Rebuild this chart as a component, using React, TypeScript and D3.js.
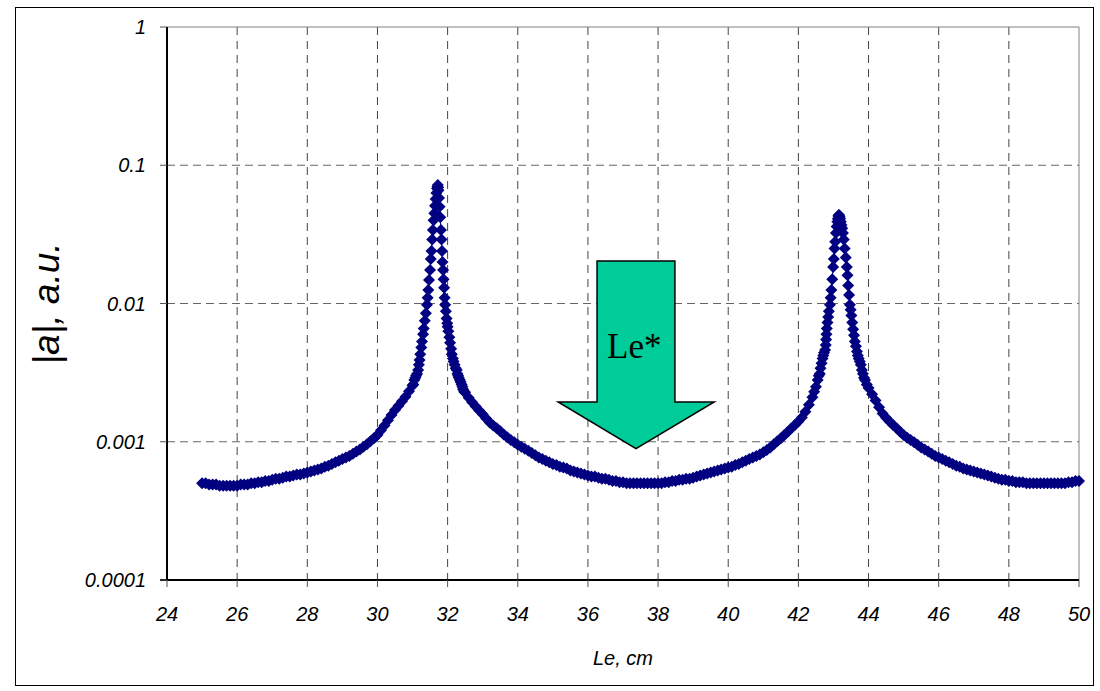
import React from 'react';
import * as d3 from 'd3';

// axis ticks
const X_TICKS = [24, 26, 28, 30, 32, 34, 36, 38, 40, 42, 44, 46, 48, 50];
const Y_TICKS = [0.0001, 0.001, 0.01, 0.1, 1];
const Y_TICK_LABELS = ['0.0001', '0.001', '0.01', '0.1', '1'];
const X_TITLE = 'Le, cm';
const Y_TITLE = '|a|, a.u.';
const ARROW_LABEL = 'Le*';

// series: [Le (cm), |a| (a.u.)]
const BASE_LEFT: [number, number][] = [
  [25.0, 0.00050], [25.1, 0.00050], [25.2, 0.00049], [25.3, 0.00049], [25.4, 0.00049],
  [25.5, 0.00048], [25.6, 0.00048], [25.7, 0.00048], [25.8, 0.00048], [25.9, 0.00048],
  [26.0, 0.00048], [26.1, 0.00049], [26.2, 0.00049], [26.3, 0.00049], [26.4, 0.00050],
  [26.5, 0.00050], [26.6, 0.00051], [26.7, 0.00051], [26.8, 0.00052], [26.9, 0.00052],
  [27.0, 0.00053], [27.1, 0.00054], [27.2, 0.00054], [27.3, 0.00055], [27.4, 0.00056],
  [27.5, 0.00056], [27.6, 0.00057], [27.7, 0.00058], [27.8, 0.00058], [27.9, 0.00059],
  [28.0, 0.00060], [28.1, 0.00061], [28.2, 0.00062], [28.3, 0.00063], [28.4, 0.00064],
  [28.5, 0.00066], [28.6, 0.00067], [28.7, 0.00069], [28.8, 0.00071], [28.9, 0.00073],
  [29.0, 0.00075], [29.1, 0.00077], [29.2, 0.00079], [29.3, 0.00082], [29.4, 0.00085],
  [29.5, 0.00088], [29.6, 0.00092], [29.7, 0.00096], [29.8, 0.00101], [29.9, 0.00106],
  [30.0, 0.00112], [30.1, 0.00121], [30.2, 0.00131], [30.3, 0.00143], [30.4, 0.00156],
  [30.5, 0.00170], [30.6, 0.00182], [30.7, 0.00196], [30.8, 0.00212], [30.9, 0.00232],
];

const PEAK_1: [number, number][] = [
  [31.0, 0.00255], [31.02, 0.0026], [31.05, 0.0028], [31.08, 0.0029], [31.1, 0.0030],
  [31.13, 0.0031], [31.16, 0.0033], [31.18, 0.0036], [31.2, 0.0039], [31.22, 0.0043],
  [31.25, 0.0048], [31.27, 0.0053], [31.3, 0.0060], [31.32, 0.0066], [31.35, 0.0075],
  [31.38, 0.0085], [31.41, 0.0098], [31.43, 0.0110], [31.45, 0.0125], [31.47, 0.0148],
  [31.5, 0.0175], [31.52, 0.021], [31.54, 0.024], [31.56, 0.029], [31.58, 0.034],
  [31.6, 0.040], [31.62, 0.045], [31.64, 0.051], [31.66, 0.057], [31.68, 0.063],
  [31.7, 0.068], [31.71, 0.070], [31.72, 0.072], [31.73, 0.069], [31.74, 0.066],
  [31.755, 0.058], [31.77, 0.050], [31.79, 0.042], [31.81, 0.034], [31.825, 0.029],
  [31.84, 0.024], [31.855, 0.020], [31.87, 0.0175], [31.885, 0.015], [31.9, 0.013],
  [31.915, 0.011], [31.93, 0.0098], [31.95, 0.0088], [31.97, 0.0078], [31.99, 0.0072],
  [32.0, 0.0068], [32.02, 0.0063], [32.05, 0.0057], [32.07, 0.0052], [32.1, 0.0047],
  [32.12, 0.0043], [32.15, 0.0040], [32.17, 0.0038], [32.2, 0.0036], [32.23, 0.0034],
  [32.26, 0.0033], [32.28, 0.0031], [32.3, 0.0030], [32.32, 0.0029], [32.35, 0.0028],
  [32.37, 0.0027], [32.4, 0.0026], [32.42, 0.0025], [32.44, 0.0024], [32.47, 0.0023],
];

const VALLEY: [number, number][] = [
  [32.5, 0.00228], [32.6, 0.00208], [32.7, 0.00193], [32.8, 0.00180], [32.9, 0.00168],
  [33.0, 0.00158], [33.1, 0.00147], [33.2, 0.00138], [33.3, 0.00131], [33.4, 0.00125],
  [33.5, 0.00119], [33.6, 0.00113], [33.7, 0.00108], [33.8, 0.00103], [33.9, 0.00099],
  [34.0, 0.00095], [34.1, 0.00092], [34.2, 0.00089], [34.3, 0.00086], [34.4, 0.00083],
  [34.5, 0.00080], [34.6, 0.00077], [34.7, 0.00075], [34.8, 0.00073], [34.9, 0.00071],
  [35.0, 0.00069], [35.1, 0.00068], [35.2, 0.00066], [35.3, 0.00065], [35.4, 0.00064],
  [35.5, 0.00062], [35.6, 0.00061], [35.7, 0.00060], [35.8, 0.00059], [35.9, 0.00058],
  [36.0, 0.00057], [36.1, 0.00056], [36.2, 0.00056], [36.3, 0.00055], [36.4, 0.00054],
  [36.5, 0.00054], [36.6, 0.00053], [36.7, 0.00052], [36.8, 0.00052], [36.9, 0.00051],
  [37.0, 0.00051], [37.1, 0.00050], [37.2, 0.00050], [37.3, 0.00050], [37.4, 0.00050],
  [37.5, 0.00050], [37.6, 0.00050], [37.7, 0.00050], [37.8, 0.00050], [37.9, 0.00050],
  [38.0, 0.00050], [38.1, 0.00050], [38.2, 0.00051], [38.3, 0.00051], [38.4, 0.00052],
  [38.5, 0.00052], [38.6, 0.00053], [38.7, 0.00053], [38.8, 0.00054], [38.9, 0.00054],
  [39.0, 0.00055], [39.1, 0.00056], [39.2, 0.00057], [39.3, 0.00058], [39.4, 0.00059],
  [39.5, 0.00060], [39.6, 0.00061], [39.7, 0.00062], [39.8, 0.00063], [39.9, 0.00064],
  [40.0, 0.00065], [40.1, 0.00066], [40.2, 0.00068], [40.3, 0.00069], [40.4, 0.00071],
  [40.5, 0.00073], [40.6, 0.00075], [40.7, 0.00077], [40.8, 0.00079], [40.9, 0.00081],
  [41.0, 0.00084], [41.1, 0.00087], [41.2, 0.00091], [41.3, 0.00096], [41.4, 0.00101],
  [41.5, 0.00106], [41.6, 0.00112], [41.7, 0.00118], [41.8, 0.00125], [41.9, 0.00132],
  [42.0, 0.00140], [42.1, 0.00150], [42.2, 0.00165], [42.3, 0.00185], [42.4, 0.00210],
];

const PEAK_2: [number, number][] = [
  [42.45, 0.0023], [42.5, 0.0025], [42.55, 0.0028], [42.58, 0.0030], [42.61, 0.0031],
  [42.63, 0.0034], [42.66, 0.0037], [42.69, 0.0040], [42.71, 0.0042], [42.73, 0.0044],
  [42.76, 0.0046], [42.78, 0.0050], [42.79, 0.0055], [42.8, 0.0060], [42.81, 0.0066],
  [42.83, 0.0073], [42.85, 0.0080], [42.87, 0.0088], [42.9, 0.0098], [42.92, 0.0110],
  [42.94, 0.0125], [42.965, 0.015], [42.99, 0.0184], [43.01, 0.021], [43.03, 0.025],
  [43.05, 0.028], [43.07, 0.0324], [43.09, 0.036], [43.11, 0.039], [43.125, 0.041],
  [43.14, 0.043], [43.15, 0.0435], [43.16, 0.0437], [43.175, 0.0425], [43.19, 0.041],
  [43.21, 0.039], [43.23, 0.037], [43.25, 0.035], [43.27, 0.0324], [43.295, 0.029],
  [43.32, 0.025], [43.35, 0.0215], [43.38, 0.0184], [43.4, 0.016], [43.42, 0.0135],
  [43.445, 0.0115], [43.47, 0.0098], [43.49, 0.0090], [43.51, 0.0082], [43.535, 0.0073],
  [43.56, 0.0065], [43.585, 0.0059], [43.61, 0.0053], [43.64, 0.0049], [43.67, 0.0045],
  [43.695, 0.0042], [43.72, 0.0040], [43.75, 0.0038], [43.78, 0.0036], [43.81, 0.0033],
  [43.84, 0.0031], [43.87, 0.0029], [43.9, 0.0028], [43.95, 0.0026],
];

const BASE_RIGHT: [number, number][] = [
  [44.0, 0.00245], [44.1, 0.00221], [44.2, 0.00199], [44.3, 0.00178], [44.4, 0.00160],
  [44.5, 0.00149], [44.6, 0.00140], [44.7, 0.00132], [44.8, 0.00125], [44.9, 0.00118],
  [45.0, 0.00112], [45.1, 0.00107], [45.2, 0.00103], [45.3, 0.00099], [45.4, 0.00095],
  [45.5, 0.00091], [45.6, 0.00088], [45.7, 0.00085], [45.8, 0.00082], [45.9, 0.00079],
  [46.0, 0.00077], [46.1, 0.00075], [46.2, 0.00073], [46.3, 0.00071], [46.4, 0.00069],
  [46.5, 0.00067], [46.6, 0.00066], [46.7, 0.00064], [46.8, 0.00063], [46.9, 0.00062],
  [47.0, 0.00061], [47.1, 0.00060], [47.2, 0.00059], [47.3, 0.00058], [47.4, 0.00057],
  [47.5, 0.00056], [47.6, 0.00055], [47.7, 0.00054], [47.8, 0.00053], [47.9, 0.00053],
  [48.0, 0.00052], [48.1, 0.00052], [48.2, 0.00051], [48.3, 0.00051], [48.4, 0.00051],
  [48.5, 0.00050], [48.6, 0.00050], [48.7, 0.00050], [48.8, 0.00050], [48.9, 0.00050],
  [49.0, 0.00050], [49.1, 0.00050], [49.2, 0.00050], [49.3, 0.00050], [49.4, 0.00050],
  [49.5, 0.00050], [49.6, 0.00050], [49.7, 0.00051], [49.8, 0.00051], [49.9, 0.00052],
  [50.0, 0.00052],
];

// the green "Le*" arrow, in data units
const ARROW_SHAFT_X = [36.26, 38.48];
const ARROW_HEAD_X = [35.15, 39.6];
const ARROW_TIP_X = 37.37;
const ARROW_TOP = 0.0203;
const ARROW_NECK = 0.00194;
const ARROW_TIP = 0.00089;

const SERIES = d3.sort(
  [...BASE_LEFT, ...PEAK_1, ...VALLEY, ...PEAK_2, ...BASE_RIGHT],
  d => d[0]
);

const FONT = '"Liberation Sans", Arial, sans-serif';
const NAVY = '#000080';

export default function App() {
  const width = 1100;
  const height = 691;
  const left = 167, right = 1079, top = 27, bottom = 580;

  const x = d3.scaleLinear().domain([24, 50]).range([left, right]);
  const y = d3.scaleLog().domain([0.0001, 1]).range([bottom, top]);

  const line = d3.line<[number, number]>()
    .x(d => x(d[0]))
    .y(d => y(d[1]));

  const r = 6;
  const diamond = `M0,${-r}L${r},0L0,${r}L${-r},0Z`;

  const arrowPts = [
    [ARROW_SHAFT_X[0], ARROW_TOP],
    [ARROW_SHAFT_X[1], ARROW_TOP],
    [ARROW_SHAFT_X[1], ARROW_NECK],
    [ARROW_HEAD_X[1], ARROW_NECK],
    [ARROW_TIP_X, ARROW_TIP],
    [ARROW_HEAD_X[0], ARROW_NECK],
    [ARROW_SHAFT_X[0], ARROW_NECK],
  ].map(p => x(p[0]) + ',' + y(p[1])).join(' ');

  return (
    <svg width={width} height={height} style={{ position: 'absolute', left: 0, top: 0 }}>
      <rect x={0} y={0} width={width} height={height} fill="#fff" />
      <rect x={15.5} y={7.5} width={1078} height={678} fill="none" stroke="#000" strokeWidth={1} />

      {/* grid */}
      <g>
        {Y_TICKS.filter(t => t > 0.0001 && t < 1).map(t => (
          <line key={'gy' + t} x1={left} x2={right} y1={y(t)} y2={y(t)}
            stroke="#666" strokeWidth={1} strokeDasharray="8,5" />
        ))}
        {X_TICKS.filter(t => t > 24 && t < 50).map(t => (
          <line key={'gx' + t} x1={x(t)} x2={x(t)} y1={top} y2={bottom}
            stroke="#444" strokeWidth={1} strokeDasharray="8,6" />
        ))}
      </g>

      {/* plot frame: gray top / right, black axes */}
      <line x1={left} x2={right} y1={top} y2={top} stroke="#808080" strokeWidth={1} />
      <line x1={right} x2={right} y1={top} y2={bottom} stroke="#808080" strokeWidth={1} />
      <line x1={left} x2={left} y1={top} y2={bottom} stroke="#000" strokeWidth={2} />
      <line x1={left - 7} x2={right} y1={bottom} y2={bottom} stroke="#000" strokeWidth={2} />

      {/* ticks */}
      {Y_TICKS.map(t => (
        <line key={'ty' + t} x1={left - 7} x2={left} y1={y(t)} y2={y(t)} stroke="#555" strokeWidth={1} />
      ))}
      {X_TICKS.map(t => (
        <line key={'tx' + t} x1={x(t)} x2={x(t)} y1={bottom} y2={bottom + 7} stroke="#555" strokeWidth={1} />
      ))}

      {/* tick labels */}
      <g fontFamily={FONT} fontStyle="italic" fontSize={20} fill="#000">
        {Y_TICKS.map((t, i) => (
          <text key={'ly' + t} x={left - 21} y={y(t)} dy="0.35em" textAnchor="end">{Y_TICK_LABELS[i]}</text>
        ))}
        {X_TICKS.map(t => (
          <text key={'lx' + t} x={x(t)} y={bottom + 41} textAnchor="middle">{t}</text>
        ))}
      </g>

      {/* axis titles */}
      <text x={(left + right) / 2} y={665} textAnchor="middle" fontFamily={FONT}
        fontStyle="italic" fontSize={20}>{X_TITLE}</text>
      <text transform={`translate(59, ${(top + bottom) / 2}) rotate(-90)`} textAnchor="middle"
        fontFamily={FONT} fontStyle="italic" fontSize={37}>{Y_TITLE}</text>

      {/* series */}
      <path d={line(SERIES) || ''} fill="none" stroke={NAVY} strokeWidth={1} />
      <g fill={NAVY}>
        {SERIES.map((d, i) => (
          <path key={'m' + i} d={diamond} transform={`translate(${x(d[0])},${y(d[1])})`} />
        ))}
      </g>

      {/* Le* arrow */}
      <polygon points={arrowPts} fill="#00CC99" stroke="#000" strokeWidth={1.5} strokeLinejoin="miter" />
      <text x={x(36.26) + 10} y={358} fontFamily='"Liberation Serif", "Times New Roman", serif'
        fontSize={35} fill="#000">{ARROW_LABEL}</text>
    </svg>
  );
}
